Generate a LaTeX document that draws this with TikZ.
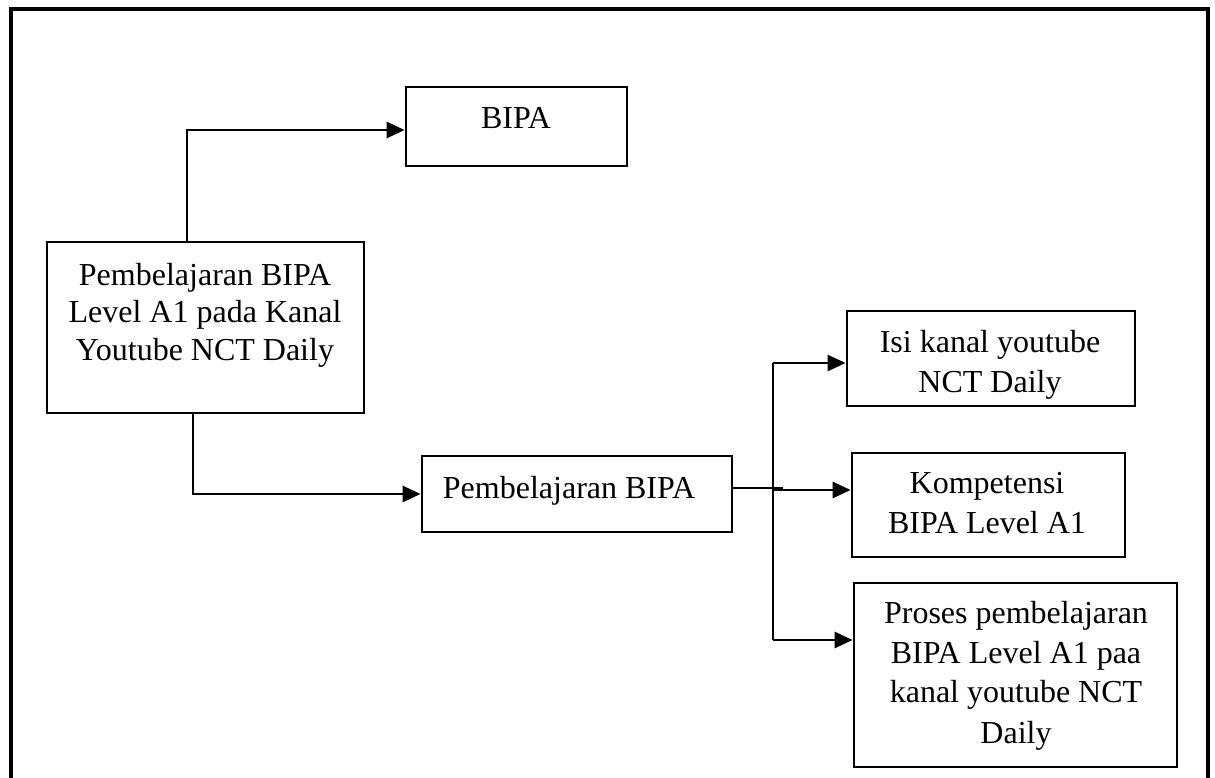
\documentclass[tikz,border=0pt]{standalone}
\usepackage{fontspec}
\setmainfont{Liberation Serif}
\usetikzlibrary{arrows.meta}
\begin{document}
\begin{tikzpicture}[x=1pt,y=-1pt,
  box/.style={draw, line width=2.8pt, rectangle, inner sep=0pt},
  txt/.style={anchor=base, inner sep=0pt, font=\fontsize{32}{38}\selectfont},
  conn/.style={line width=2.8pt},
  arr/.style={conn, -{Triangle[length=18pt,width=16pt]}},
  frame/.style={line width=3.2pt}]
\useasboundingbox (0,0) rectangle (1215,778);
% outer frame (open at the bottom)
\draw[frame] (11,778) -- (11,9) -- (1208,9) -- (1208,778);

% boxes
\node[box, minimum width=221pt, minimum height=79pt]  (bipa)   at (516.5,126.5) {};
\node[box, minimum width=317pt, minimum height=171pt] (main)   at (205.5,327.5) {};
\node[box, minimum width=310pt, minimum height=76pt]  (pemb)   at (577,494) {};
\node[box, minimum width=288pt, minimum height=95pt]  (isi)    at (991,358.5) {};
\node[box, minimum width=273pt, minimum height=104pt] (komp)   at (988.5,505) {};
\node[box, minimum width=323pt, minimum height=184pt] (proses) at (1015.5,675) {};

% texts
\node[txt] (tbipa) at (516,129) {BIPA};
\node[txt] (tm1) at (205,285) {Pembelajaran BIPA};
\node[txt] (tm2) at (205,322) {Level A1 pada Kanal};
\node[txt] (tm3) at (205,360) {Youtube NCT Daily};
\node[txt] (tp1) at (569,498) {Pembelajaran BIPA};
\node[txt] (ti1) at (990,352) {Isi kanal youtube};
\node[txt] (ti2) at (990,392) {NCT Daily};
\node[txt] (tk1) at (987,493) {Kompetensi};
\node[txt] (tk2) at (987,533) {BIPA Level A1};
\node[txt] (tr1) at (1016,623) {Proses pembelajaran};
\node[txt] (tr2) at (1016,663) {BIPA Level A1 paa};
\node[txt] (tr3) at (1016,702) {kanal youtube NCT};
\node[txt] (tr4) at (1016,743) {Daily};

% connector coordinates
\coordinate (a1) at (187,130);
\coordinate (a2) at (193,494);
\coordinate (j)  at (783,488);
\coordinate (t1) at (773,363);
\coordinate (t2) at (773,490);
\coordinate (t3) at (773,640);

% connectors
\draw[arr] (main.north -| a1) |- (bipa.west |- a1);
\draw[arr] (main.south -| a2) |- (pemb.west);
\draw[conn] (pemb.east |- j) -- (j);
\draw[conn] (t1) -- (t3);
\draw[arr] (t1) -- (isi.west |- t1);
\draw[arr] (t2) -- (komp.west |- t2);
\draw[arr] (t3) -- (proses.west |- t3);
\end{tikzpicture}
\end{document}
